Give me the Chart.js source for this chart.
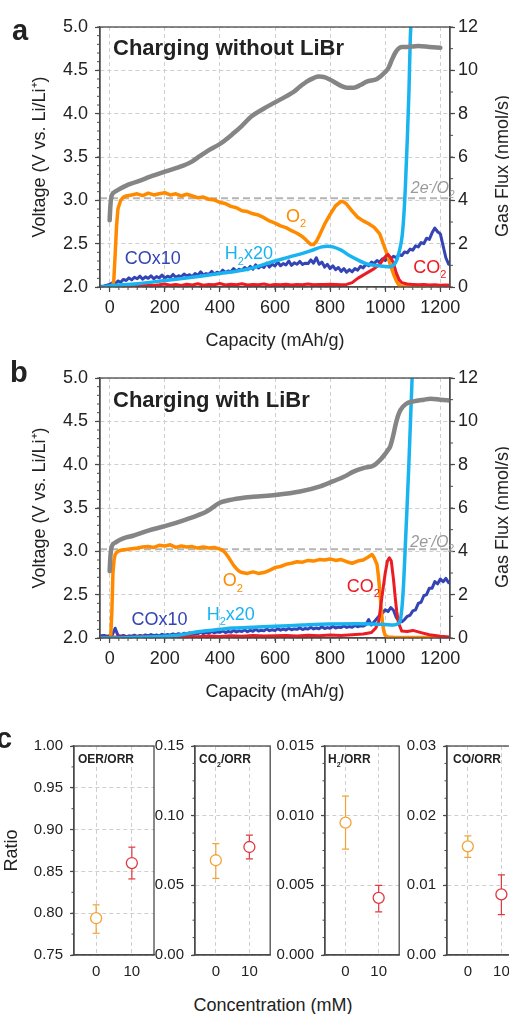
<!DOCTYPE html>
<html>
<head>
<meta charset="utf-8">
<script src="https://cdn.jsdelivr.net/npm/chart.js@4.4.1/dist/chart.umd.min.js"></script>
<style>
  html, body { margin: 0; padding: 0; background: #fff; }
  body { width: 509px; height: 1014px; position: relative; overflow: hidden; font-family: "Liberation Sans", Arial, sans-serif; }
  canvas { position: absolute; }
  #concLabel { position: absolute; left: 123px; width: 300px; top: 994px; text-align: center; font-size: 18px; line-height: 22px; color: #222; }
</style>
</head>
<body>
<canvas id="panelA" width="509" height="352" style="left:0;top:0"></canvas>
<canvas id="panelB" width="509" height="352" style="left:0;top:351px"></canvas>
<canvas id="ratioOer" width="162" height="262" style="left:0;top:730px"></canvas>
<canvas id="ratioCo2" width="127" height="262" style="left:150px;top:730px"></canvas>
<canvas id="ratioH2" width="134" height="262" style="left:272px;top:730px"></canvas>
<canvas id="ratioCo" width="125" height="262" style="left:404px;top:730px"></canvas>
<div id="concLabel">Concentration (mM)</div>
<script>
// ---------- data: panels a/b (capacity in mAh/g, voltage in V, gas flux in nmol/s) ----------
const capTicks = [0, 200, 400, 600, 800, 1000, 1200];
const voltTicks = [2.0, 2.5, 3.0, 3.5, 4.0, 4.5, 5.0];
const fluxTicks = [0, 2, 4, 6, 8, 10, 12];
const capRange = [-35, 1235];
const twoElectronFlux = 4.1; // 2e-/O2 reference

// a: without LiBr
const voltCapA = [0,3,8,20,36,60,85,120,145,200,267,300,327,360,400,448,480,515,560,600,640,667,690,715,740,758,782,812,840,861,885,910,933,970,1000,1012,1024,1036,1048,1060,1079,1120,1160,1200];
const voltA = [2.77,2.95,3.06,3.1,3.13,3.17,3.2,3.24,3.27,3.33,3.4,3.45,3.51,3.58,3.65,3.77,3.86,3.97,4.06,4.13,4.2,4.25,4.31,4.37,4.41,4.43,4.42,4.37,4.32,4.3,4.3,4.33,4.37,4.4,4.48,4.53,4.62,4.7,4.75,4.77,4.77,4.78,4.77,4.76];

const o2CapA = [0,10,15,20,25,30,40,50,60,80,100,120,140,160,180,200,220,240,260,280,300,320,340,360,380,400,420,440,460,480,500,520,540,560,580,600,620,640,660,680,700,710,720,730,740,750,760,780,800,820,840,850,860,880,900,920,940,960,980,1000,1010,1020,1030,1040,1050,1060,1100,1235];
const o2A = [0,0,0.3,1.5,2.8,3.6,4.0,4.15,4.2,4.25,4.3,4.22,4.33,4.25,4.3,4.35,4.25,4.3,4.2,4.28,4.2,4.12,4.15,4.05,4.02,3.9,3.85,3.72,3.66,3.52,3.48,3.38,3.32,3.2,3.05,2.95,2.82,2.74,2.6,2.48,2.32,2.2,2.08,1.96,1.96,2.1,2.35,2.9,3.35,3.75,3.95,3.92,3.82,3.5,3.22,3.05,2.92,2.75,2.45,1.75,1.4,0.95,0.6,0.3,0.08,0.02,0,0];

const co2CapA = [-35,0,20,40,60,80,100,120,140,160,180,200,220,240,260,280,300,320,340,360,380,400,420,440,460,480,500,520,540,560,580,600,620,640,660,680,700,720,740,760,780,800,820,840,860,880,900,920,940,960,980,1000,1010,1020,1030,1040,1050,1060,1080,1100,1120,1140,1160,1180,1200,1220,1235];
const co2A = [0.02,0.03,0.05,0.04,0.08,0.05,0.1,0.06,0.12,0.07,0.1,0.14,0.08,0.12,0.07,0.13,0.09,0.15,0.08,0.12,0.1,0.16,0.09,0.13,0.1,0.15,0.09,0.12,0.1,0.14,0.08,0.12,0.1,0.13,0.09,0.12,0.1,0.14,0.1,0.12,0.11,0.13,0.12,0.1,0.12,0.2,0.4,0.55,0.7,0.85,1.05,1.4,1.5,1.35,1.1,0.65,0.35,0.2,0.14,0.12,0.1,0.11,0.09,0.1,0.08,0.09,0.08];

const h2CapA = [-35,0,100,200,300,400,500,600,650,700,740,770,790,810,840,870,900,930,960,1000,1018,1030,1042,1052,1061,1067,1073,1080,1086,1091,1096];
const h2A = [0,0.05,0.15,0.3,0.45,0.62,0.82,1.2,1.38,1.55,1.72,1.85,1.88,1.85,1.7,1.45,1.25,1.08,1.0,0.95,0.94,1.0,1.25,1.7,2.32,3.2,4.6,6.8,9.0,11.5,12.6];

// CO trace is sampled every 10 mAh/g in both panels
const coCap = [-30,-20,-10,0,10,20,30,40,50,60,
  70,80,90,100,110,120,130,140,150,160,
  170,180,190,200,210,220,230,240,250,260,
  270,280,290,300,310,320,330,340,350,360,
  370,380,390,400,410,420,430,440,450,460,
  470,480,490,500,510,520,530,540,550,560,
  570,580,590,600,610,620,630,640,650,660,
  670,680,690,700,710,720,730,740,750,760,
  770,780,790,800,810,820,830,840,850,860,
  870,880,890,900,910,920,930,940,950,960,
  970,980,990,1000,1010,1020,1030,1040,1050,1060,
  1070,1080,1090,1100,1110,1120,1130,1140,1150,1160,
  1170,1180,1190,1200,1210,1220,1230];
const coA = [0.03,0.05,0.08,0.12,0.2,0.15,0.28,0.22,0.35,0.3,
  0.42,0.33,0.45,0.38,0.5,0.36,0.47,0.4,0.52,0.38,
  0.48,0.42,0.55,0.4,0.5,0.44,0.58,0.45,0.52,0.47,
  0.6,0.5,0.57,0.48,0.62,0.53,0.7,0.55,0.62,0.58,
  0.72,0.6,0.68,0.63,0.78,0.66,0.74,0.7,0.85,0.72,
  0.82,0.76,0.9,0.8,0.95,0.82,1.02,0.88,0.97,0.9,
  1.1,0.92,1.05,0.97,1.15,0.98,1.08,1.02,1.2,1.0,
  1.12,1.05,1.18,1.04,1.1,1.08,1.25,1.1,1.35,1.05,
  1.15,0.92,1.05,0.85,0.98,0.8,0.9,0.72,0.85,0.68,
  0.8,0.7,0.85,0.78,0.95,0.88,1.05,0.98,1.15,1.08,
  1.22,1.15,1.3,1.22,1.38,1.3,1.42,1.35,1.5,1.45,
  1.62,1.58,1.75,1.7,1.9,1.85,2.05,2.0,2.25,2.2,
  2.5,2.72,2.55,2.45,1.9,1.35,1.05];

// b: with LiBr
const voltCapB = [0,3,8,20,36,60,85,140,200,279,352,400,448,521,600,691,764,812,850,885,920,958,980,994,1010,1018,1030,1036,1045,1055,1075,1103,1140,1164,1200,1236];
const voltB = [2.77,2.95,3.06,3.1,3.13,3.16,3.18,3.24,3.29,3.37,3.46,3.56,3.6,3.63,3.65,3.69,3.75,3.81,3.86,3.92,3.96,3.99,4.05,4.1,4.17,4.21,4.35,4.44,4.55,4.63,4.7,4.73,4.75,4.76,4.75,4.74];

const o2CapB = [0,4,8,12,16,20,24,30,40,61,80,100,120,140,160,180,200,220,240,260,280,300,320,340,360,380,400,410,420,430,440,450,460,470,480,500,520,540,560,580,600,620,640,660,680,700,720,740,760,780,800,820,840,860,880,900,920,940,952,960,970,975,980,985,990,995,1000,1010,1030,1060,1100,1150,1200,1235];
const o2B = [0,0.1,1.2,3.0,3.6,3.85,3.92,4.0,4.05,4.08,4.12,4.15,4.2,4.22,4.18,4.28,4.25,4.3,4.18,4.25,4.2,4.22,4.15,4.2,4.15,4.18,4.1,4.05,3.92,3.75,3.55,3.35,3.2,3.08,3.02,2.98,3.05,2.98,3.02,3.12,3.25,3.3,3.4,3.45,3.52,3.5,3.58,3.55,3.62,3.6,3.65,3.58,3.62,3.52,3.45,3.55,3.6,3.75,3.85,3.7,3.4,2.9,2.2,1.4,0.7,0.3,0.12,0.05,0.03,0.02,0.02,0.02,0.01,0.01];

const co2CapB = [-35,0,40,80,120,160,200,240,280,320,360,400,440,480,520,560,600,640,680,720,760,800,840,880,920,950,965,976,988,1000,1008,1015,1022,1030,1036,1042,1048,1060,1080,1100,1130,1160,1200,1235];
const co2B = [0.02,0.03,0.05,0.04,0.06,0.05,0.07,0.05,0.08,0.06,0.09,0.07,0.1,0.08,0.12,0.09,0.1,0.12,0.09,0.13,0.1,0.14,0.12,0.15,0.18,0.25,0.45,0.75,1.9,3.0,3.55,3.7,3.55,2.7,1.9,1.2,0.7,0.32,0.3,0.35,0.25,0.15,0.08,0.05];

const h2CapB = [-35,0,100,200,260,327,400,448,520,600,700,800,900,950,1000,1030,1045,1055,1062,1067,1073,1079,1085,1091,1099];
const h2B = [0,0,0.03,0.08,0.15,0.3,0.4,0.46,0.5,0.54,0.6,0.65,0.66,0.65,0.62,0.6,0.65,0.85,1.6,2.6,4.3,6.0,7.8,9.8,12.5];

const coB = [0.1,0.12,0.08,0.1,0.15,0.45,0.12,0.08,0.12,0.06,
  0.1,0.08,0.13,0.07,0.12,0.09,0.14,0.1,0.16,0.11,
  0.14,0.1,0.17,0.12,0.16,0.13,0.19,0.14,0.2,0.15,
  0.22,0.17,0.24,0.18,0.22,0.2,0.27,0.2,0.26,0.22,
  0.3,0.24,0.28,0.26,0.33,0.25,0.3,0.27,0.35,0.28,
  0.33,0.3,0.37,0.29,0.35,0.31,0.4,0.32,0.36,0.33,
  0.42,0.34,0.38,0.35,0.43,0.36,0.41,0.37,0.45,0.38,
  0.42,0.4,0.47,0.39,0.44,0.41,0.5,0.42,0.46,0.43,
  0.52,0.44,0.48,0.45,0.54,0.46,0.5,0.48,0.56,0.49,
  0.53,0.5,0.58,0.52,0.57,0.55,0.62,0.85,0.6,0.75,
  0.9,1.05,1.15,1.3,1.22,1.4,1.28,0.95,0.8,0.75,
  0.85,1.0,1.05,1.25,1.3,1.6,1.65,1.95,2.0,2.3,
  2.3,2.6,2.5,2.72,2.6,2.75,2.55];

// ---------- data: panel c (ratios at 0 and 10 mM LiBr) ----------
const concValues = [0, 10];
const oerRatio = [0.794, 0.860], oerLow = [0.776, 0.841], oerHigh = [0.810, 0.879];
const co2Ratio = [0.068, 0.0775], co2Low = [0.055, 0.069], co2High = [0.080, 0.086];
const h2Ratio = [0.0095, 0.0041], h2Low = [0.0076, 0.0031], h2High = [0.0114, 0.0050];
const coRatio = [0.0156, 0.0087], coLow = [0.0140, 0.0058], coHigh = [0.0171, 0.0115];
const oerTicks = [0.75, 0.80, 0.85, 0.90, 0.95, 1.00];
const co2Ticks = [0, 0.05, 0.10, 0.15];
const h2Ticks = [0, 0.005, 0.010, 0.015];
const coTicks = [0, 0.01, 0.02, 0.03];

// ---------- styling ----------
const FONT = '"Liberation Sans", Arial, sans-serif';
const AXIS = '#4a4a4a';
const GRID = '#cfcfcf';
const C_GRAY = '#858585', C_ORANGE = '#ff8a00', C_RED = '#ec1c24', C_SKY = '#19b4f0', C_NAVY = '#3444b4';
const concColors = ['#f3a338', '#e0383e'];

Chart.defaults.font.family = FONT;
Chart.defaults.color = '#222';
Chart.defaults.animation = false;

const pairs = (xs, ys) => xs.map((x, i) => ({ x: x, y: ys[i] }));

// text with _x subscripts and ^x superscripts
function drawRich(ctx, str, x, y, size, style, color, align) {
  const parts = [];
  for (let i = 0; i < str.length; i++) {
    const c = str[i];
    if ((c === '_' || c === '^') && i + 1 < str.length) { parts.push({ t: str[i + 1], k: c }); i++; }
    else if (parts.length && parts[parts.length - 1].k === '') parts[parts.length - 1].t += c;
    else parts.push({ t: c, k: '' });
  }
  const fontFor = p => `${style} ${p.k ? Math.round(size * 0.62) : size}px ${FONT}`;
  let total = 0;
  parts.forEach(p => { ctx.font = fontFor(p); p.w = ctx.measureText(p.t).width; total += p.w; });
  let cx = align === 'center' ? x - total / 2 : (align === 'right' ? x - total : x);
  ctx.fillStyle = color;
  ctx.textAlign = 'left';
  ctx.textBaseline = 'alphabetic';
  parts.forEach(p => {
    ctx.font = fontFor(p);
    const dy = p.k === '_' ? size * 0.3 : (p.k === '^' ? -size * 0.42 : 0);
    ctx.fillText(p.t, cx, y + dy);
    cx += p.w;
  });
}

function notesPlugin(items, yAxis) {
  return {
    id: 'notes',
    afterDraw(chart) {
      const ctx = chart.ctx;
      items.forEach(n => {
        let x = n.x, y = n.y;
        if (n.data) { x = chart.scales.x.getPixelForValue(n.x); y = chart.scales[yAxis].getPixelForValue(n.y); }
        if (n.inArea) { x = chart.chartArea.left + n.x; y = chart.chartArea.top + n.y; }
        ctx.save();
        ctx.translate(x, y);
        if (n.rotate) ctx.rotate(n.rotate);
        drawRich(ctx, n.text, 0, n.rotate ? n.size * 0.35 : 0, n.size, n.style || 'normal', n.color || '#222', n.align || 'left');
        ctx.restore();
      });
    }
  };
}

function minorTicksPlugin(steps, len) {
  return {
    id: 'minorTicks',
    afterDraw(chart) {
      const ctx = chart.ctx;
      ctx.save();
      ctx.strokeStyle = AXIS;
      ctx.lineWidth = 1;
      Object.keys(steps).forEach(id => {
        const s = chart.scales[id];
        const step = steps[id];
        for (let k = Math.ceil(s.min / step - 1e-6); k * step <= s.max + 1e-9; k++) {
          const p = s.getPixelForValue(k * step);
          ctx.beginPath();
          if (s.isHorizontal()) { ctx.moveTo(p, s.top); ctx.lineTo(p, s.top + len); }
          else if (s.position === 'left') { ctx.moveTo(s.right, p); ctx.lineTo(s.right - len, p); }
          else { ctx.moveTo(s.left, p); ctx.lineTo(s.left + len, p); }
          ctx.stroke();
        }
      });
      ctx.restore();
    }
  };
}

const framePlugin = {
  id: 'frame',
  afterDraw(chart) {
    const { ctx, chartArea: a } = chart;
    ctx.save();
    ctx.strokeStyle = AXIS;
    ctx.lineWidth = 1.3;
    ctx.strokeRect(a.left, a.top, a.right - a.left, a.bottom - a.top);
    ctx.restore();
  }
};

function trace(xs, ys, color, width, axis, order, smooth) {
  return {
    data: pairs(xs, ys), borderColor: color, borderWidth: width, pointRadius: 0,
    yAxisID: axis, order: order, tension: 0,
    cubicInterpolationMode: smooth ? 'monotone' : 'default',
    borderJoinStyle: 'round', borderCapStyle: 'round'
  };
}

const tickSet = list => scale => { scale.ticks = list.map(v => ({ value: v })); };

function capacityPanel(canvasId, s, notes) {
  return new Chart(document.getElementById(canvasId), {
    type: 'line',
    data: {
      datasets: [
        trace(s.voltCap, s.volt, C_GRAY, 4.5, 'y', 0, true),
        trace(s.h2Cap, s.h2, C_SKY, 3.5, 'y2', 1, true),
        trace(s.co2Cap, s.co2, C_RED, 3, 'y2', 2, false),
        trace(s.o2Cap, s.o2, C_ORANGE, 3.5, 'y2', 3, false),
        trace(coCap, s.co, C_NAVY, 3, 'y2', 4, false),
        {
          data: [{ x: capRange[0], y: twoElectronFlux }, { x: capRange[1], y: twoElectronFlux }],
          borderColor: '#b4b4b4', borderDash: [7, 4], borderWidth: 2, pointRadius: 0, yAxisID: 'y2', order: 5
        }
      ]
    },
    options: {
      responsive: false,
      animation: false,
      layout: { padding: { top: 27, left: 0, right: 0, bottom: 0 } },
      plugins: { legend: { display: false }, tooltip: { enabled: false } },
      scales: {
        x: {
          type: 'linear', min: capRange[0], max: capRange[1],
          afterBuildTicks: tickSet(capTicks),
          afterFit: sc => { sc.height = 65; },
          ticks: { font: { size: 18 }, padding: 5, maxRotation: 0, autoSkip: false, color: '#222', callback: v => String(v) },
          grid: { color: GRID, tickColor: AXIS, tickLength: 5, tickWidth: 1.2 },
          border: { color: AXIS, width: 1.3, dash: [4, 3] },
          title: { display: true, text: 'Capacity (mAh/g)', font: { size: 18 }, color: '#222', padding: { top: 0, bottom: 0 } }
        },
        y: {
          position: 'left', min: 2, max: 5,
          afterBuildTicks: tickSet(voltTicks),
          afterFit: sc => { sc.width = 100; },
          ticks: { font: { size: 18 }, padding: 7, autoSkip: false, color: '#222', callback: v => v.toFixed(1) },
          grid: { color: GRID, tickColor: AXIS, tickLength: 5, tickWidth: 1.2 },
          border: { color: AXIS, width: 1.3, dash: [4, 3] },
          title: { display: true, text: 'Voltage (V vs. Li/Li\u207A)', font: { size: 18 }, color: '#222', padding: { top: 29, bottom: 0 } }
        },
        y2: {
          position: 'right', min: 0, max: 12,
          afterBuildTicks: tickSet(fluxTicks),
          afterFit: sc => { sc.width = 59; },
          ticks: { font: { size: 18 }, padding: 3, autoSkip: false, color: '#222', callback: v => String(v) },
          grid: { drawOnChartArea: false, tickColor: AXIS, tickLength: 5, tickWidth: 1.2 },
          border: { color: AXIS, width: 1.3 }
        }
      }
    },
    plugins: [minorTicksPlugin({ x: 200 / 6, y: 0.1, y2: 1 }, 3), framePlugin, notesPlugin(notes, 'y2')]
  });
}

capacityPanel('panelA', {
  voltCap: voltCapA, volt: voltA, o2Cap: o2CapA, o2: o2A, co2Cap: co2CapA, co2: co2A,
  h2Cap: h2CapA, h2: h2A, co: coA
}, [
  { text: 'a', x: 12, y: 40, size: 29, style: 'bold' },
  { text: 'Charging without LiBr', x: 113, y: 55, size: 22, style: 'bold' },
  { text: 'O_2', data: true, x: 640, y: 3.0, size: 18, color: C_ORANGE },
  { text: 'COx10', data: true, x: 55, y: 1.06, size: 18, color: C_NAVY },
  { text: 'H_2x20', data: true, x: 418, y: 1.28, size: 18, color: C_SKY },
  { text: 'CO_2', data: true, x: 1102, y: 0.66, size: 18, color: C_RED },
  { text: '2e^-/O_2', data: true, x: 1093, y: 4.32, size: 16, style: 'italic', color: '#9a9a9a' },
  { text: 'Gas Flux (nmol/s)', x: 502, y: 166, size: 18, align: 'center', rotate: -Math.PI / 2 }
]);

capacityPanel('panelB', {
  voltCap: voltCapB, volt: voltB, o2Cap: o2CapB, o2: o2B, co2Cap: co2CapB, co2: co2B,
  h2Cap: h2CapB, h2: h2B, co: coB
}, [
  { text: 'b', x: 10, y: 31, size: 29, style: 'bold' },
  { text: 'Charging with LiBr', x: 113, y: 56, size: 22, style: 'bold' },
  { text: 'O_2', data: true, x: 410, y: 2.38, size: 18, color: C_ORANGE },
  { text: 'CO_2', data: true, x: 860, y: 2.12, size: 18, color: C_RED },
  { text: 'COx10', data: true, x: 79, y: 0.58, size: 18, color: C_NAVY },
  { text: 'H_2x20', data: true, x: 352, y: 0.85, size: 18, color: C_SKY },
  { text: '2e^-/O_2', data: true, x: 1091, y: 4.18, size: 16, style: 'italic', color: '#9a9a9a' },
  { text: 'Gas Flux (nmol/s)', x: 502, y: 166, size: 18, align: 'center', rotate: -Math.PI / 2 }
]);

// ---------- panel c ----------
function ratioPanel(canvasId, cfg) {
  const errorBars = concValues.map((c, i) => ({
    data: [{ x: c, y: cfg.low[i] }, { x: c, y: cfg.high[i] }],
    borderColor: concColors[i], borderWidth: 1.2,
    pointStyle: 'line', pointRadius: 3.5, pointBorderColor: concColors[i], pointBorderWidth: 1.2,
    order: 2
  }));
  const markers = {
    data: pairs(concValues, cfg.mean), showLine: false,
    pointRadius: 5.5, pointBorderWidth: 1.3, pointBorderColor: concColors, pointBackgroundColor: '#fff',
    order: 1
  };
  return new Chart(document.getElementById(canvasId), {
    type: 'line',
    data: { datasets: [markers].concat(errorBars) },
    options: {
      responsive: false,
      animation: false,
      layout: { padding: { top: 15, left: 0, right: cfg.padRight, bottom: 0 } },
      plugins: { legend: { display: false }, tooltip: { enabled: false } },
      scales: {
        x: {
          type: 'linear', min: -6.2, max: 16.2,
          afterBuildTicks: tickSet(concValues),
          afterFit: sc => { sc.height = 37; },
          ticks: { font: { size: 15 }, padding: 8, autoSkip: false, maxRotation: 0, color: '#222', callback: v => String(v) },
          grid: { color: GRID, drawTicks: false },
          border: { color: AXIS, width: 1.3, dash: [4, 3] }
        },
        y: {
          position: 'left', min: cfg.ticks[0], max: cfg.ticks[cfg.ticks.length - 1],
          afterBuildTicks: tickSet(cfg.ticks),
          afterFit: sc => { sc.width = cfg.axisWidth; },
          ticks: { font: { size: 15 }, padding: 7, autoSkip: false, color: '#222', callback: v => v.toFixed(cfg.decimals) },
          grid: { color: GRID, tickColor: AXIS, tickLength: 4, tickWidth: 1.2 },
          border: { color: AXIS, width: 1.3, dash: [4, 3] },
          title: { display: !!cfg.title, text: cfg.title || '', font: { size: 18 }, color: '#222', padding: { top: 1, bottom: 0 } }
        }
      }
    },
    plugins: [minorTicksPlugin({ y: cfg.minor }, 2.5), framePlugin, notesPlugin(cfg.notes, 'y')]
  });
}

ratioPanel('ratioOer', {
  mean: oerRatio, low: oerLow, high: oerHigh, ticks: oerTicks, decimals: 2, minor: 0.025,
  axisWidth: 74, padRight: 8, title: 'Ratio',
  notes: [
    { text: 'c', x: -4, y: 18, size: 29, style: 'bold' },
    { text: 'OER/ORR', inArea: true, x: 4, y: 17, size: 12, style: 'bold' }
  ]
});
ratioPanel('ratioCo2', {
  mean: co2Ratio, low: co2Low, high: co2High, ticks: co2Ticks, decimals: 2, minor: 0.0125,
  axisWidth: 45, padRight: 4,
  notes: [{ text: 'CO_2/ORR', inArea: true, x: 4, y: 17, size: 12, style: 'bold' }]
});
ratioPanel('ratioH2', {
  mean: h2Ratio, low: h2Low, high: h2High, ticks: h2Ticks, decimals: 3, minor: 0.00125,
  axisWidth: 53, padRight: 4,
  notes: [{ text: 'H_2/ORR', inArea: true, x: 3, y: 17, size: 12, style: 'bold' }]
});
ratioPanel('ratioCo', {
  mean: coRatio, low: coLow, high: coHigh, ticks: coTicks, decimals: 2, minor: 0.0025,
  axisWidth: 43, padRight: 4,
  notes: [{ text: 'CO/ORR', inArea: true, x: 6, y: 17, size: 12, style: 'bold' }]
});
</script>
</body>
</html>
